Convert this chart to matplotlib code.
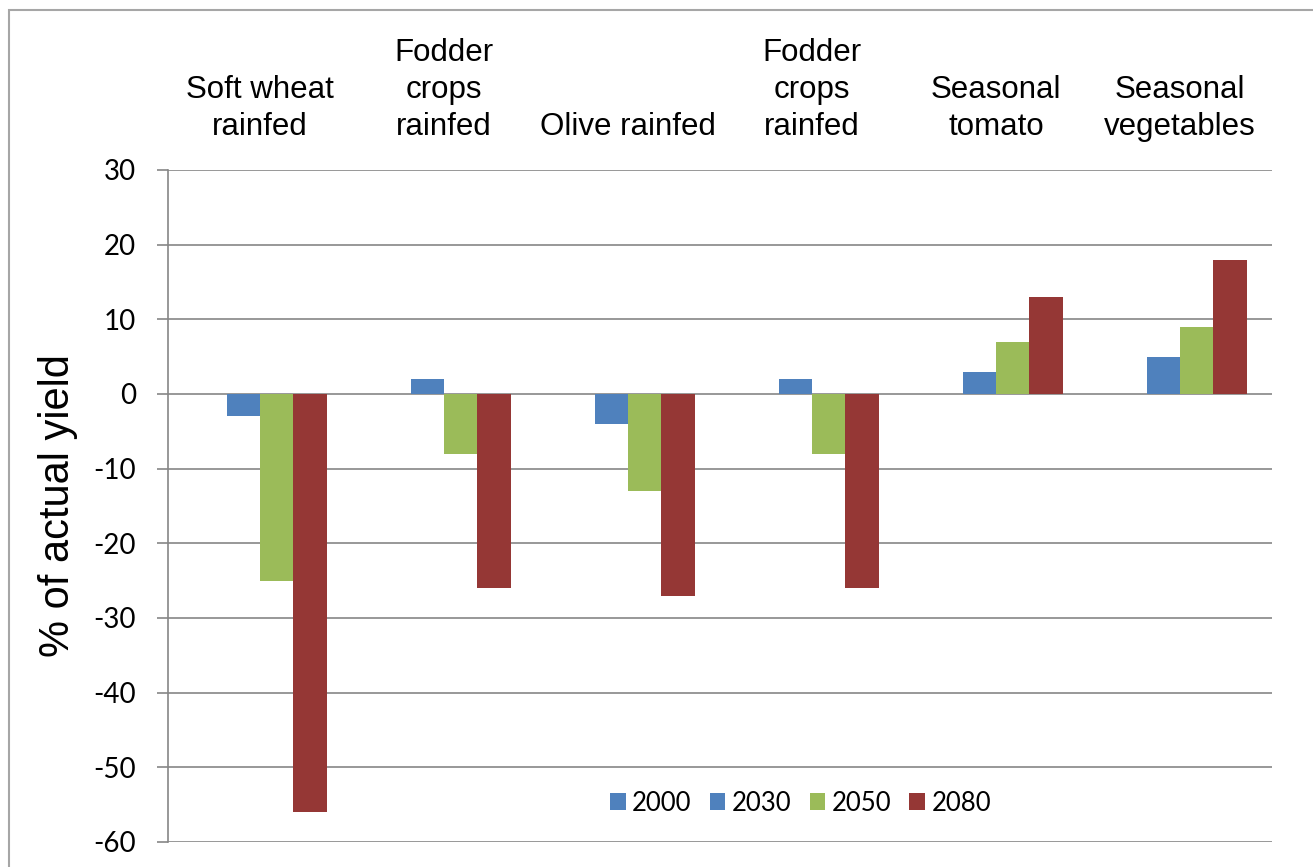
import numpy as np
import matplotlib
matplotlib.use("Agg")
import matplotlib.pyplot as plt
from matplotlib.patches import Rectangle

# -----------------------------
# Data
# -----------------------------
categories = ["Soft wheat\nrainfed", "Fodder\ncrops\nrainfed", "Olive rainfed",
              "Fodder\ncrops\nrainfed", "Seasonal\ntomato", "Seasonal\nvegetables"]
series_names = ["2000", "2030", "2050", "2080"]
v2000 = [0, 0, 0, 0, 0, 0]
v2030 = [-3, 2, -4, 2, 3, 5]
v2050 = [-25, -8, -13, -8, 7, 9]
v2080 = [-56, -26, -27, -26, 13, 18]
yticks = [30, 20, 10, 0, -10, -20, -30, -40, -50, -60]

colors = ["#4F81BD", "#4F81BD", "#9BBB59", "#953735"]
grid_c = "#868686"
num_font = ["Lato", "DejaVu Sans"]
txt_font = ["Liberation Sans", "DejaVu Sans"]

# -----------------------------
# Figure
# -----------------------------
fig = plt.figure(figsize=(13.13, 8.67), dpi=100)
W, H = 1313, 867
ax = fig.add_axes([168 / W, 1 - 842 / H, (1272 - 168) / W, (842 - 170) / H])

# outer chart border (cropped on right / bottom)
fig.patches.append(Rectangle((9 / W, -0.1), 1.2, (H - 10) / H + 0.1,
                             transform=fig.transFigure, fill=False,
                             edgecolor="#A6A6A6", lw=1.5, clip_on=False))

x = np.arange(len(categories))
bw = 1 / 5.5
for i, (vals, c, name) in enumerate(zip([v2000, v2030, v2050, v2080], colors, series_names)):
    ax.bar(x + (i - 1.5) * bw, vals, width=bw, color=c, label=name, zorder=3)

ax.set_xlim(-0.5, len(categories) - 0.5)
ax.set_ylim(-60, 30)
ax.set_yticks(yticks)
ax.set_yticklabels([str(t) for t in yticks], family=num_font, fontsize=20)
ax.yaxis.grid(True, color=grid_c, lw=1.2, zorder=0)
ax.set_axisbelow(True)
ax.tick_params(axis="y", length=8, width=1.2, color=grid_c, pad=15)

# category labels on top
ax.set_xticks(x)
ax.set_xticklabels(categories, family=txt_font, fontsize=22.5, linespacing=1.3)
ax.xaxis.tick_top()
ax.tick_params(axis="x", length=0, pad=20)

for s in ["top", "right", "bottom"]:
    ax.spines[s].set_visible(False)
ax.spines["left"].set_color(grid_c)
ax.spines["left"].set_linewidth(1.2)

ax.set_ylabel("% of actual yield", family=txt_font, fontsize=30, labelpad=11)

ax.legend(loc="center", bbox_to_anchor=(0.573, 0.058), ncol=4, frameon=False,
          prop={"family": num_font, "size": 18.5}, handlelength=0.62, handleheight=0.62,
          handletextpad=0.25, columnspacing=0.7)

fig.savefig("out.png", dpi=100)
